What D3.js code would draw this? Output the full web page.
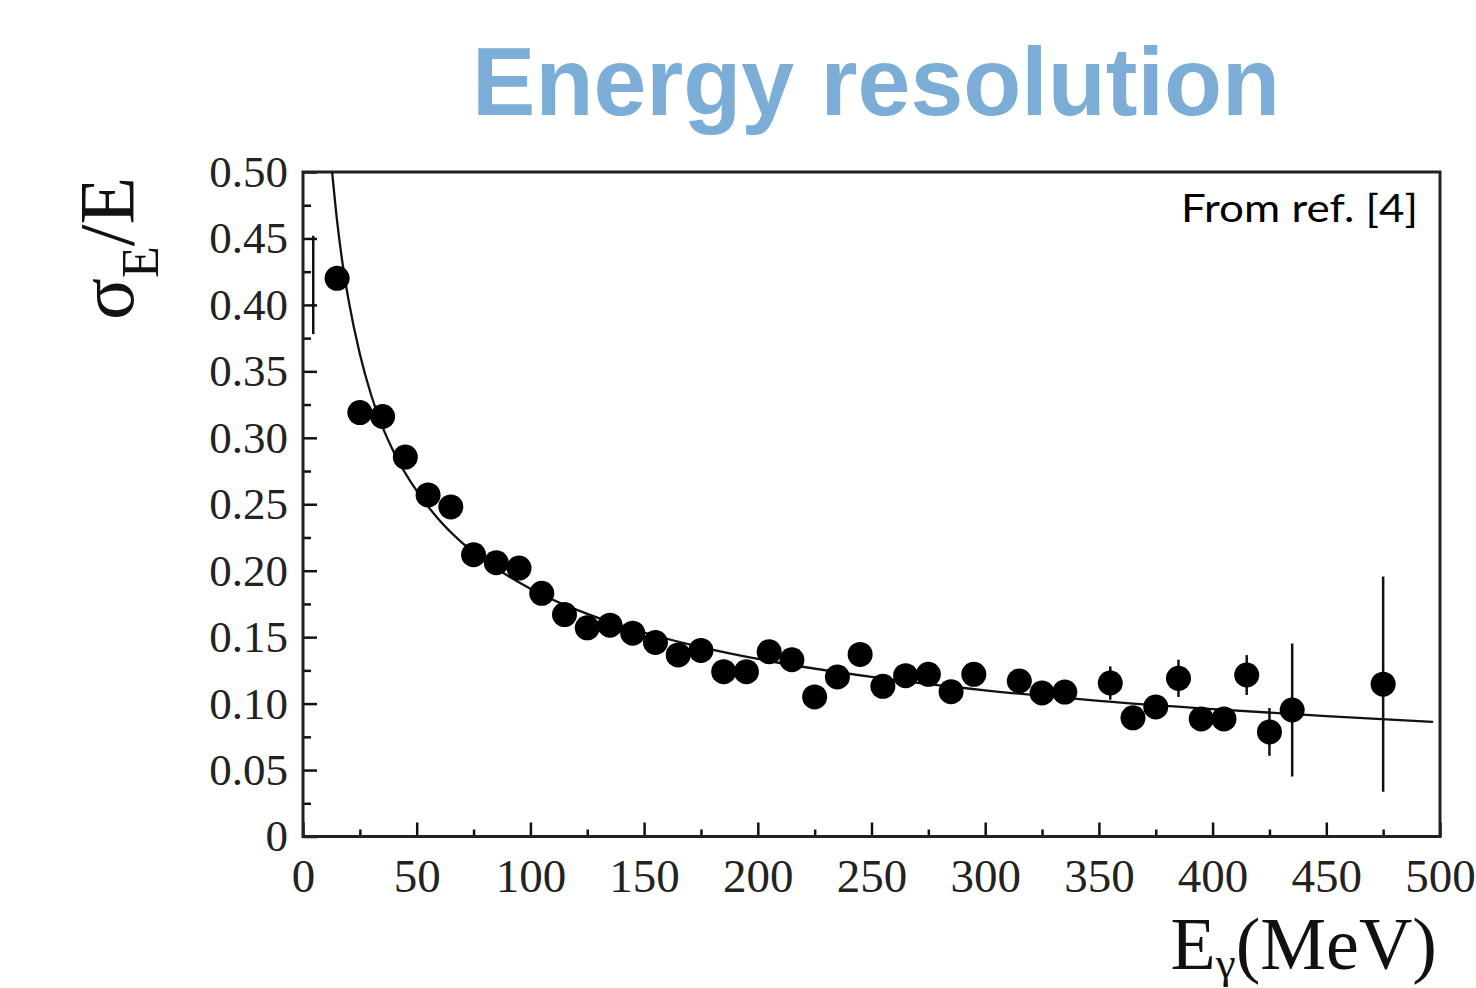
<!DOCTYPE html>
<html><head><meta charset="utf-8">
<script src="https://cdn.jsdelivr.net/npm/d3@7"></script>
<style>body{margin:0;background:#fff}svg{display:block}</style>
</head><body>
<svg id="c" width="1476" height="988"></svg>
<script>
// ---- data ----
const energy = [15,25,35,45,55,65,75,85,95,105,115,125,135,145,155,165,175,185,195,205,215,225,235,245,255,265,275,285,295,315,325,335,355,365,375,385,395,405,415,425,435,475];
const resolution = [0.420,0.319,0.316,0.2855,0.257,0.248,0.212,0.206,0.202,0.183,0.167,0.157,0.159,0.153,0.146,0.1366,0.140,0.124,0.124,0.139,0.133,0.105,0.120,0.137,0.113,0.121,0.122,0.109,0.122,0.117,0.108,0.1087,0.1155,0.0893,0.0975,0.119,0.0885,0.0885,0.1215,0.0787,0.0952,0.1146];
const errors = [0.006,0.006,0.006,0.006,0.006,0.006,0.006,0.006,0.006,0.006,0.006,0.006,0.006,0.006,0.006,0.006,0.006,0.006,0.006,0.006,0.006,0.006,0.006,0.006,0.006,0.006,0.006,0.006,0.006,0.007,0.007,0.007,0.0125,0.008,0.008,0.014,0.008,0.008,0.015,0.018,0.050,0.081];
const fitEnergy = [12.8,15,17.5,20,25,30,35,40,50,60,70,80,100,125,150,175,200,250,300,350,400,450,497];
const fitResolution = [0.500,0.463,0.430,0.404,0.363,0.332,0.308,0.289,0.260,0.238,0.221,0.2076,0.1865,0.1675,0.1535,0.1425,0.1336,0.1201,0.110,0.1021,0.0959,0.0906,0.0862];
const edgeBarEnergy = [4.5];
const edgeBarLow = [0.378];
const edgeBarHigh = [0.452];
const xTicks = [0,50,100,150,200,250,300,350,400,450,500];
const xMinorTicks = [25,75,125,175,225,275,325,375,425,475];
const yTicks = [0,0.05,0.10,0.15,0.20,0.25,0.30,0.35,0.40,0.45,0.50];
const yTickLabels = ["0","0.05","0.10","0.15","0.20","0.25","0.30","0.35","0.40","0.45","0.50"];
const yMinorTicks = [0.025,0.075,0.125,0.175,0.225,0.275,0.325,0.375,0.425,0.475];
const titleText = "Energy resolution";
const noteText = "From ref. [4]";

// ---- drawing ----
const svg = d3.select("#c");
const L = 303, R = 1440, T = 172, B = 836.5;
const x = d3.scaleLinear().domain([0,500]).range([L,R]);
const y = d3.scaleLinear().domain([0,0.5]).range([B,T]);
const ink = "#111";

svg.append("text").attr("x",472).attr("y",115)
  .attr("font-family","'Liberation Sans',Arial,sans-serif").attr("font-weight","bold")
  .attr("font-size",97).attr("fill","#7badd6")
  .attr("textLength",808).attr("lengthAdjust","spacingAndGlyphs").text(titleText);

svg.append("defs").append("clipPath").attr("id","plot")
  .append("rect").attr("x",L).attr("y",T).attr("width",R-L).attr("height",B-T);

// axes
const serif = "'Liberation Serif','Times New Roman',serif";
const yAx = svg.append("g").attr("transform",`translate(${L},0)`)
  .call(d3.axisLeft(y).tickValues(yTicks).tickFormat((d,i)=>yTickLabels[i]).tickSize(-14).tickPadding(15));
svg.append("g").attr("transform",`translate(${L},0)`)
  .call(d3.axisLeft(y).tickValues(yMinorTicks).tickFormat("").tickSize(-8));
const xAx = svg.append("g").attr("transform",`translate(0,${B})`)
  .call(d3.axisBottom(x).tickValues(xTicks).tickFormat(d3.format("d")).tickSize(-14).tickPadding(22));
svg.append("g").attr("transform",`translate(0,${B})`)
  .call(d3.axisBottom(x).tickValues(xMinorTicks).tickFormat("").tickSize(-7));
svg.selectAll(".domain").remove();
svg.selectAll(".tick line").attr("stroke",ink).attr("stroke-width",2.5);
yAx.selectAll("text").attr("font-family",serif).attr("font-size",45).attr("fill","#222");
xAx.selectAll("text").attr("font-family",serif).attr("font-size",47).attr("fill","#222");

svg.append("rect").attr("x",L).attr("y",T).attr("width",R-L).attr("height",B-T)
  .attr("fill","none").attr("stroke","#222").attr("stroke-width",3);

const plot = svg.append("g").attr("clip-path","url(#plot)");

// fit curve
plot.append("path").datum(fitEnergy.map((e,i)=>[e,fitResolution[i]]))
  .attr("fill","none").attr("stroke",ink).attr("stroke-width",2.3)
  .attr("d",d3.line().x(d=>x(d[0])).y(d=>y(d[1])).curve(d3.curveMonotoneX));

// stray error bar at the left edge
plot.selectAll(".edgebar").data(edgeBarEnergy).join("line")
  .attr("x1",d=>x(d)).attr("x2",d=>x(d))
  .attr("y1",(d,i)=>y(edgeBarLow[i])).attr("y2",(d,i)=>y(edgeBarHigh[i]))
  .attr("stroke",ink).attr("stroke-width",2.5);

const pts = energy.map((e,i)=>({e, r:resolution[i], s:errors[i]}));
plot.selectAll(".err").data(pts).join("line")
  .attr("x1",d=>x(d.e)).attr("x2",d=>x(d.e))
  .attr("y1",d=>y(d.r-d.s)).attr("y2",d=>y(d.r+d.s))
  .attr("stroke",ink).attr("stroke-width",2.5);
plot.selectAll(".pt").data(pts).join("circle")
  .attr("cx",d=>x(d.e)).attr("cy",d=>y(d.r)).attr("r",12.5).attr("fill","#000");

// note
svg.append("text").attr("x",1181).attr("y",222)
  .attr("font-family","Lato,'Open Sans',sans-serif").attr("font-size",38).attr("fill","#000")
  .attr("textLength",237).attr("lengthAdjust","spacingAndGlyphs").text(noteText);

// y label
const yl = svg.append("text").attr("transform","translate(133,320) rotate(-90)")
  .attr("font-family",serif).attr("font-size",78).attr("fill","#111");
yl.append("tspan").text("σ");
yl.append("tspan").attr("font-size",52).attr("dy",25).text("E");
yl.append("tspan").attr("dy",-25).text("/E");

// x label
const xl = svg.append("text").attr("x",1437).attr("y",969).attr("text-anchor","end")
  .attr("font-family",serif).attr("font-size",74).attr("fill","#111");
xl.append("tspan").text("E");
xl.append("tspan").attr("font-size",45).attr("dy",9).text("γ");
xl.append("tspan").attr("dy",-9).text("(MeV)");
</script>
</body></html>
